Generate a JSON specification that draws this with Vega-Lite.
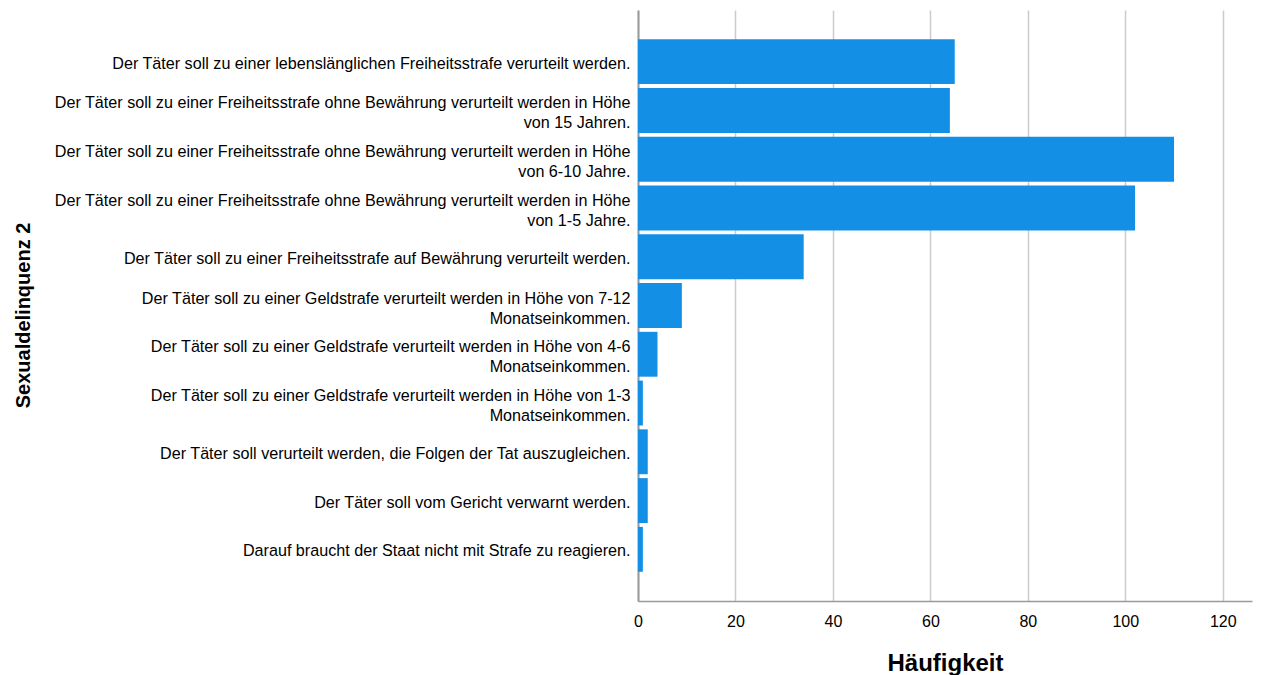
{
  "$schema": "https://vega.github.io/schema/vega-lite/v6.json",
  "width": 614,
  "height": 591,
  "autosize": "none",
  "padding": {"left": 638, "top": 10, "right": 9, "bottom": 74},
  "background": "white",
  "config": {
    "view": {"stroke": null},
    "font": "Liberation Sans"
  },
  "data": {
    "values": [
      {"kategorie": "Der Täter soll zu einer lebenslänglichen Freiheitsstrafe verurteilt werden.", "haeufigkeit": 65},
      {"kategorie": "Der Täter soll zu einer Freiheitsstrafe ohne Bewährung verurteilt werden in Höhe|von 15 Jahren.", "haeufigkeit": 64},
      {"kategorie": "Der Täter soll zu einer Freiheitsstrafe ohne Bewährung verurteilt werden in Höhe|von 6-10 Jahre.", "haeufigkeit": 110},
      {"kategorie": "Der Täter soll zu einer Freiheitsstrafe ohne Bewährung verurteilt werden in Höhe|von 1-5 Jahre.", "haeufigkeit": 102},
      {"kategorie": "Der Täter soll zu einer Freiheitsstrafe auf Bewährung verurteilt werden.", "haeufigkeit": 34},
      {"kategorie": "Der Täter soll zu einer Geldstrafe verurteilt werden in Höhe von 7-12|Monatseinkommen.", "haeufigkeit": 9},
      {"kategorie": "Der Täter soll zu einer Geldstrafe verurteilt werden in Höhe von 4-6|Monatseinkommen.", "haeufigkeit": 4},
      {"kategorie": "Der Täter soll zu einer Geldstrafe verurteilt werden in Höhe von 1-3|Monatseinkommen.", "haeufigkeit": 1},
      {"kategorie": "Der Täter soll verurteilt werden, die Folgen der Tat auszugleichen.", "haeufigkeit": 2},
      {"kategorie": "Der Täter soll vom Gericht verwarnt werden.", "haeufigkeit": 2},
      {"kategorie": "Darauf braucht der Staat nicht mit Strafe zu reagieren.", "haeufigkeit": 1}
    ]
  },
  "mark": {"type": "bar", "color": "#1390e6"},
  "encoding": {
    "y": {
      "field": "kategorie",
      "type": "nominal",
      "sort": null,
      "scale": {"paddingInner": 0.08, "paddingOuter": 0.6},
      "axis": {
        "title": "Sexualdelinquenz 2",
        "titleFont": "Liberation Sans",
        "titleFontSize": 20,
        "titleFontWeight": "bold",
        "titleColor": "#000000",
        "titleAngle": -90,
        "titleAlign": "center",
        "titleBaseline": "alphabetic",
        "titleX": -609,
        "titleY": 305,
        "labelExpr": "split(datum.label, '|')",
        "labelFont": "Liberation Sans",
        "labelFontSize": 16.15,
        "labelColor": "#000000",
        "labelLineHeight": 20,
        "labelLimit": 700,
        "labelPadding": 8,
        "labelOffset": {"condition": {"test": "indexof(datum.value, '|') >= 0", "value": -7}, "value": 2},
        "ticks": false,
        "tickSize": 0,
        "domainColor": "#9a9a9a",
        "domainWidth": 2,
        "grid": false
      }
    },
    "x": {
      "field": "haeufigkeit",
      "type": "quantitative",
      "scale": {"domain": [0, 126], "nice": false, "zero": true},
      "axis": {
        "title": "Häufigkeit",
        "titleFont": "Liberation Sans",
        "titleFontSize": 24,
        "titleFontWeight": "bold",
        "titleColor": "#000000",
        "titleBaseline": "alphabetic",
        "titleY": 69,
        "values": [0, 20, 40, 60, 80, 100, 120],
        "labelFont": "Liberation Sans",
        "labelFontSize": 16,
        "labelColor": "#000000",
        "labelPadding": 12,
        "labelFlush": false,
        "ticks": false,
        "tickSize": 0,
        "domainColor": "#9a9a9a",
        "domainWidth": 1.5,
        "grid": true,
        "gridColor": "#cccccc",
        "gridWidth": 1.5
      }
    }
  }
}
